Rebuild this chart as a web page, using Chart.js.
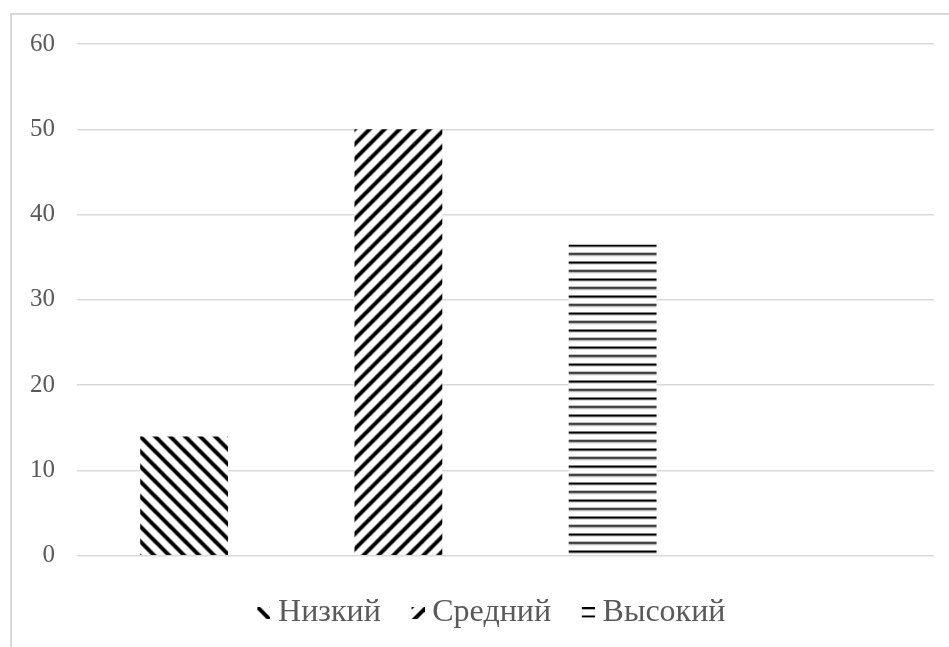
<!DOCTYPE html>
<html>
<head>
<meta charset="utf-8">
<script src="https://cdn.jsdelivr.net/npm/chart.js@4.4.1/dist/chart.umd.min.js"></script>
<style>
    html, body { margin: 0; padding: 0; background: #fff; overflow: hidden; }
    #frame {
        position: absolute; left: 10px; top: 13px; width: 960px; height: 700px;
        border: 2px solid #d9d9d9; box-sizing: border-box;
    }
    #chart { position: absolute; left: 0; top: 0; }
</style>
</head>
<body>
<div id="frame"></div>
<canvas id="chart" width="949" height="647"></canvas>
<script>
const categories = ['', '', '', ''];
const seriesNames = ['Низкий', 'Средний', 'Высокий'];
const lowValues = [14, null, null, null];
const midValues = [null, 50, null, null];
const highValues = [null, null, 36.5, null];
const yTicks = [0, 10, 20, 30, 40, 50, 60];

const FONT = "'Liberation Serif', 'Times New Roman', serif";

function drawHatch(g, kind, w, h) {
    const s = kind === 'horiz' ? 17 : 15;
    g.fillStyle = '#fff';
    g.fillRect(0, 0, w, h);
    if (kind === 'horiz') {
        for (let y = 0; y < h; y += s / 2) {
            g.fillStyle = '#000';
            g.fillRect(0, y, w, 2);
            g.fillStyle = '#b0b0b0';
            g.fillRect(0, y + 2, w, 1);
        }
        return;
    }
    g.strokeStyle = '#000';
    g.lineWidth = 4;
    g.beginPath();
    for (let k = -1; k * s <= w; k++) {
        for (let j = 0; j * s <= h + s; j += 1) {
            if (kind === 'down') {
                g.moveTo(k * s, j * s - s);
                g.lineTo(k * s + s, j * s);
            } else {
                g.moveTo(k * s, j * s);
                g.lineTo(k * s + s, j * s - s);
            }
        }
    }
    g.stroke();
}

function makePattern(kind) {
    const c = document.createElement('canvas');
    const s = kind === 'horiz' ? 17 : 15;
    c.width = s;
    c.height = s;
    const g = c.getContext('2d');
    drawHatch(g, kind, s, s);
    return g.createPattern(c, 'repeat');
}

// legend marker: hatch swatch in the right 13px, transparent on the left
function makeMarker(kind) {
    const sw = document.createElement('canvas');
    sw.width = 13;
    sw.height = kind === 'horiz' ? 11 : 12;
    const sg = sw.getContext('2d');
    drawHatch(sg, kind, sw.width, sw.height);
    if (kind === 'horiz') {
        sg.clearRect(0, 3, sw.width, 5);
    }
    const c = document.createElement('canvas');
    c.width = 21;
    c.height = 12;
    c.getContext('2d').drawImage(sw, 8, 0);
    return c;
}

// moves the legend row so it sits where the reference has it
const legendShift = {
    id: 'legendShift',
    afterLayout(chart) {
        chart.legend.left = 49;
    }
};

// starts each hatch at the top-left corner of its bar
const alignHatch = {
    id: 'alignHatch',
    beforeDatasetsDraw(chart) {
        chart.data.datasets.forEach((ds, i) => {
            const bar = chart.getDatasetMeta(i).data[i];
            if (!bar) return;
            const x = bar.x - bar.width / 2;
            ds.backgroundColor.setTransform(new DOMMatrix().translate(x, bar.y));
        });
    }
};

document.addEventListener('DOMContentLoaded', () => {
    const ctx = document.getElementById('chart').getContext('2d');
    const kinds = ['down', 'up', 'horiz'];
    const values = [lowValues, midValues, highValues];

    new Chart(ctx, {
        type: 'bar',
        data: {
            labels: categories,
            datasets: seriesNames.map((name, i) => ({
                label: name,
                data: values[i],
                backgroundColor: makePattern(kinds[i]),
                pointStyle: makeMarker(kinds[i]),
                borderWidth: 0,
                categoryPercentage: 1,
                barPercentage: 0.41
            }))
        },
        options: {
            responsive: false,
            animation: false,
            layout: { padding: { left: 8, right: 15, top: 44, bottom: 8 } },
            plugins: {
                tooltip: { enabled: false },
                legend: {
                    position: 'bottom',
                    labels: {
                        color: '#595959',
                        font: { family: FONT, size: 32 },
                        usePointStyle: true,
                        pointStyleWidth: 4.5,
                        boxHeight: 12,
                        padding: 31
                    }
                }
            },
            scales: {
                x: {
                    stacked: true,
                    grid: { display: false },
                    border: { display: false },
                    ticks: { display: false },
                    title: { display: true, text: '', font: { size: 1 }, padding: { top: 1, bottom: 0 } }
                },
                y: {
                    stacked: true,
                    min: yTicks[0],
                    max: yTicks[yTicks.length - 1],
                    afterBuildTicks: axis => { axis.ticks = yTicks.map(v => ({ value: v })); },
                    border: { display: false },
                    grid: { color: '#d9d9d9', lineWidth: 1.5, drawTicks: false },
                    ticks: {
                        color: '#595959',
                        font: { family: FONT, size: 25 },
                        padding: 22
                    }
                }
            }
        },
        plugins: [legendShift, alignHatch]
    });
});
</script>
</body>
</html>
